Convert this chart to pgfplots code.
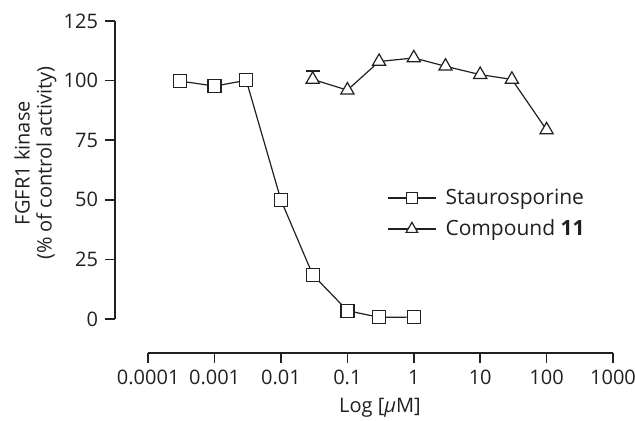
\documentclass[border=0pt]{standalone}
\usepackage{pgfplots}
\pgfplotsset{compat=1.18}
\usepackage{fontspec}
\setmainfont{Open Sans}
\definecolor{ink}{RGB}{35,31,32}

\begin{document}
\begin{tikzpicture}
\useasboundingbox (-57.5pt,-34pt) rectangle (260pt,176.5pt);
\begin{axis}[
  scale only axis, width=249pt, height=166pt,
  xmode=log, xmin=3.16228e-5, xmax=1000,
  ymin=-14.26, ymax=125,
  clip=false,
  axis x line*=bottom, axis y line*=left,
  axis line style={ink, line width=0.8pt},
  x axis line style={shorten <=16.6pt},
  y axis line style={shorten <=17pt},
  tick style={ink, line width=0.8pt},
  tick align=outside, major tick length=5pt,
  xtick={1e-4,1e-3,0.01,0.1,1,10,100,1000},
  xticklabels={0.0001,0.001,0.01,0.1,1,10,100,1000},
  xminorticks=false,
  ytick={0,25,50,75,100,125},
  /pgf/number format/assume math mode=true,
  ticklabel style={font=\fontsize{10}{12}\selectfont, text=ink},
  xlabel={Log [\textit{μ}M]},
  xlabel style={font=\fontsize{10}{12}\selectfont, text=ink, at={(axis description cs:0.532,-0.166)}, anchor=center},
  ylabel={FGFR1 kinase\\(\% of control activity)},
  ylabel style={font=\fontsize{10}{11}\selectfont, text=ink, align=center, at={(axis description cs:-0.16,0.572)}, anchor=center},
  legend style={draw=none, fill=none, inner sep=0pt, at={(axis description cs:0.546,0.508)}, anchor=north west,
    font=\fontsize{10.5}{12}\selectfont, text=ink, row sep=2.2pt, cells={anchor=west}},
  legend image code/.code={\draw[mark repeat=2,mark phase=2,#1,mark options={fill=white,solid,scale=0.88}] plot coordinates {(0pt,0pt)(12pt,0pt)(24pt,0pt)};
    \path (26.5pt,0pt);},
]
% Staurosporine
\addplot[ink, line width=0.6pt, mark=square*, mark size=3.25pt, mark options={fill=white, solid}] coordinates {
  (0.0003,99.8) (0.001,97.7) (0.003,100.1) (0.01,49.8) (0.03,18.6) (0.1,3.5) (0.3,0.7) (1,0.8)
};
% error bar of first compound 11 point
\addplot[forget plot, draw=none, mark=none,
  error bars/.cd, y dir=plus, y explicit,
  error bar style={draw=ink, line width=0.6pt},
  error mark options={draw=ink, rotate=90, mark size=3.5pt, line width=0.8pt}]
  coordinates {(0.03,100.5) +- (0,3.6)};
% Compound 11
\addplot[ink, line width=0.6pt, mark=triangle*, mark size=3.8pt, mark options={fill=white, solid}] coordinates {
  (0.03,100.5) (0.1,96) (0.3,108) (1,109.5) (3,106) (10,102.5) (30,100.5) (100,79.3)
};
\legend{Staurosporine, Compound \textbf{11}}
\end{axis}
\end{tikzpicture}
\end{document}
